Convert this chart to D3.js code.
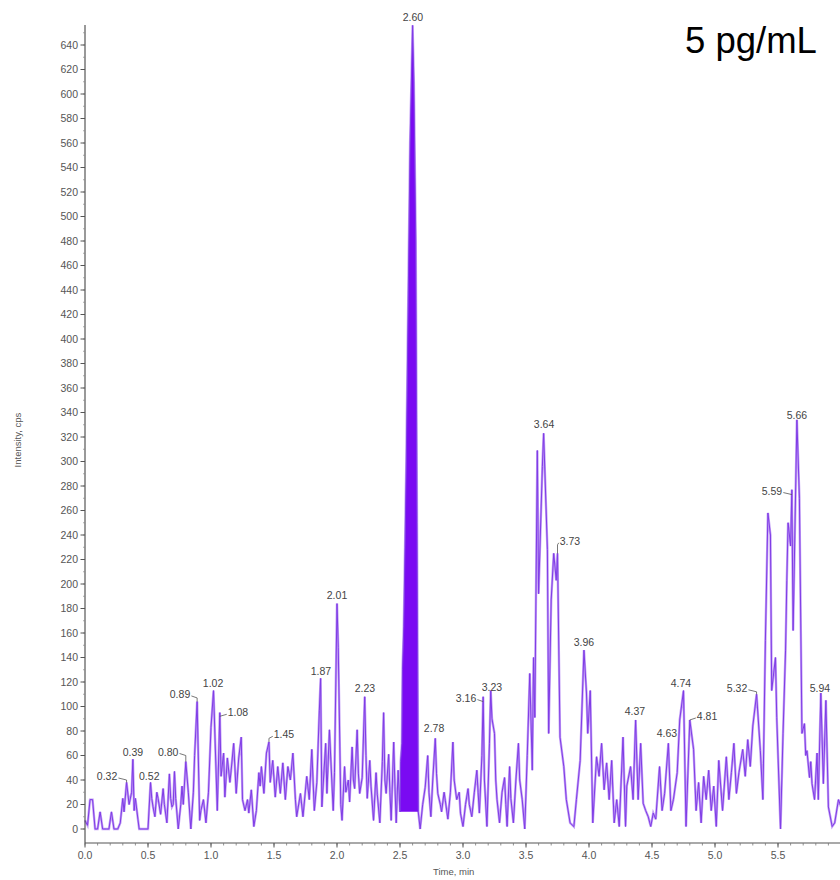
<!DOCTYPE html>
<html><head><meta charset="utf-8">
<script src="https://cdn.jsdelivr.net/npm/d3@7"></script>
<style>body{margin:0;background:#fff}svg{display:block}</style>
</head><body>
<svg id="c" width="840" height="880"></svg>
<script>
// [retention time (min), intensity (cps)]
const chromatogram = [
[0.00,7],[0.02,3],[0.04,24],[0.06,24],[0.08,0],[0.10,0],[0.12,14],[0.14,0],[0.17,0],[0.19,0],
[0.21,14],[0.23,0],[0.26,0],[0.28,5],[0.30,25],[0.31,14],[0.33,38],[0.35,20],[0.37,30],[0.38,57],
[0.39,15],[0.40,25],[0.42,8],[0.43,0],[0.50,0],[0.52,38],[0.53,25],[0.54,18],[0.555,10],[0.57,30],[0.58,25],[0.60,12],
[0.62,33],[0.63,20],[0.65,5],[0.67,45],[0.68,25],[0.69,18],[0.70,20],[0.71,47],[0.72,25],[0.74,0],[0.76,20],[0.77,35],[0.78,20],[0.80,55],
[0.82,30],[0.84,0],[0.86,30],[0.87,60],[0.89,104],[0.91,7],[0.92,15],[0.94,24],[0.96,5],[0.98,30],[1.00,83],[1.02,113],
[1.05,15],[1.07,95],[1.08,43],[1.10,62],[1.11,26],[1.13,58],[1.15,38],[1.16,48],[1.18,70],[1.20,29],
[1.22,58],[1.24,75],[1.25,24],[1.27,15],[1.29,24],[1.30,13],[1.32,32],[1.34,2],[1.36,15],[1.38,46],
[1.39,35],[1.40,51],[1.42,29],[1.44,62],[1.46,71],[1.47,38],[1.49,56],[1.51,26],[1.53,51],[1.55,29],
[1.57,54],[1.59,24],[1.61,51],[1.63,40],[1.65,62],[1.67,24],[1.68,10],[1.71,29],[1.73,10],[1.76,43],
[1.78,24],[1.80,65],[1.82,15],[1.84,38],[1.86,97],[1.87,123],[1.88,18],[1.91,70],[1.92,29],[1.94,81],
[1.97,15],[1.98,46],[2.00,184],[2.01,148],[2.03,20],[2.04,7],[2.06,51],[2.07,30],[2.09,40],[2.10,22],
[2.12,67],[2.13,40],[2.14,33],[2.16,81],[2.17,45],[2.18,29],[2.20,42],[2.22,108],[2.23,60],[2.24,25],
[2.26,56],[2.27,35],[2.29,7],[2.31,46],[2.32,28],[2.34,5],[2.36,55],[2.37,95],[2.38,40],[2.39,29],
[2.41,61],[2.42,30],[2.43,7],[2.45,71],[2.46,35],[2.47,5],[2.485,48],
[2.50,14],[2.505,55],[2.515,70],[2.52,130],[2.53,165],[2.54,230],[2.55,300],[2.565,430],[2.58,560],[2.60,656],
[2.61,610],[2.625,480],[2.635,250],[2.645,14],
[2.66,0],[2.68,20],[2.70,34],[2.72,60],[2.73,30],[2.745,10],[2.76,40],[2.78,74],[2.79,45],[2.80,29],
[2.82,20],[2.83,14],[2.85,30],[2.86,23],[2.88,8],[2.90,30],[2.92,71],[2.93,40],[2.95,24],[2.97,30],
[2.98,13],[3.00,2],[3.02,20],[3.04,33],[3.05,20],[3.07,10],[3.09,30],[3.11,48],[3.12,30],[3.13,13],
[3.15,60],[3.16,108],[3.17,40],[3.19,2],[3.21,70],[3.22,113],[3.23,90],[3.25,78],[3.26,40],[3.27,24],
[3.29,5],[3.31,30],[3.33,42],[3.34,20],[3.35,2],[3.37,51],[3.38,25],[3.40,5],[3.42,40],[3.44,70],
[3.45,40],[3.47,24],[3.49,0],
[3.51,60],[3.53,127],[3.55,48],[3.56,140],[3.57,91],[3.59,309],[3.60,192],
[3.63,296],[3.64,323],[3.67,228],[3.68,78],[3.70,187],[3.72,225],[3.74,203],[3.75,225],[3.77,75],[3.80,51],
[3.82,24],[3.85,5],[3.88,2],[3.90,24],[3.93,56],[3.96,146],[3.98,111],[3.99,78],
[4.01,113],[4.03,5],[4.06,59],[4.08,43],[4.10,70],[4.12,32],[4.14,54],[4.16,24],[4.18,56],[4.20,5],
[4.22,24],[4.24,2],[4.27,75],[4.29,2],[4.30,35],[4.33,51],[4.35,24],[4.37,89],[4.39,24],[4.41,70],
[4.43,21],[4.45,15],[4.47,10],[4.49,2],[4.51,13],[4.53,8],[4.56,51],[4.58,15],[4.60,29],[4.63,70],
[4.65,15],[4.67,24],[4.70,46],[4.72,89],[4.75,113],[4.77,2],[4.80,89],[4.83,65],[4.85,15],[4.87,38],
[4.89,5],[4.91,43],[4.93,24],[4.95,48],[4.97,15],[4.99,35],[5.01,2],[5.03,56],[5.06,15],[5.09,59],
[5.11,24],[5.13,46],[5.15,70],[5.17,29],[5.19,46],[5.22,65],[5.24,43],[5.26,73],[5.28,51],[5.30,84],
[5.33,110],[5.36,64],[5.38,24],
[5.40,154],[5.42,258],[5.44,240],[5.45,113],[5.48,140],[5.49,91],[5.52,0],[5.54,78],[5.56,146],[5.57,203],
[5.58,250],[5.60,231],[5.61,277],[5.62,162],[5.65,334],[5.67,270],[5.69,78],[5.71,86],[5.72,60],[5.73,64],[5.75,42],
[5.76,55],[5.77,37],[5.79,24],[5.81,62],[5.82,24],[5.84,111],[5.86,37],[5.88,105],[5.90,18],[5.93,2],[5.95,5],
[5.98,24],[6.00,18]
];

// integrated peak (retention window and baseline)
const integratedPeak = {start: 2.50, end: 2.645, baseline: 14};

const xTicks = [0,0.5,1,1.5,2,2.5,3,3.5,4,4.5,5,5.5];
const yTicks = [0,20,40,60,80,100,120,140,160,180,200,220,240,260,280,300,320,340,360,380,400,420,440,460,480,500,520,540,560,580,600,620,640];

// peak labels: text, label anchor (t, v) and labelled apex (pt, pv)
const peakLabels = [
{text:"0.32", t:0.175, v:40,  pt:0.33, pv:38, leader:true},
{text:"0.39", t:0.38,  v:60,  pt:0.38, pv:57},
{text:"0.52", t:0.51,  v:40,  pt:0.52, pv:38},
{text:"0.80", t:0.66,  v:60,  pt:0.80, pv:55, leader:true},
{text:"0.89", t:0.754, v:107, pt:0.89, pv:104, leader:true},
{text:"1.02", t:1.016, v:116, pt:1.02, pv:113},
{text:"1.08", t:1.214, v:92,  pt:1.07, pv:95, leader:true},
{text:"1.45", t:1.579, v:74,  pt:1.46, pv:71, leader:true},
{text:"1.87", t:1.873, v:126, pt:1.87, pv:123},
{text:"2.01", t:2.0,   v:188, pt:2.00, pv:184},
{text:"2.23", t:2.222, v:112, pt:2.22, pv:108},
{text:"2.60", t:2.603, v:660, pt:2.60, pv:656},
{text:"2.78", t:2.77,  v:79,  pt:2.78, pv:74},
{text:"3.16", t:3.024, v:104, pt:3.16, pv:108, leader:true},
{text:"3.23", t:3.23,  v:113, pt:3.22, pv:113},
{text:"3.64", t:3.643, v:327, pt:3.64, pv:323},
{text:"3.73", t:3.849, v:232, pt:3.75, pv:225, leader:true},
{text:"3.96", t:3.96,  v:149, pt:3.96, pv:146},
{text:"4.37", t:4.365, v:93,  pt:4.37, pv:89},
{text:"4.63", t:4.619, v:75,  pt:4.63, pv:70},
{text:"4.74", t:4.73,  v:116, pt:4.75, pv:113},
{text:"4.81", t:4.937, v:89,  pt:4.80, pv:89, leader:true},
{text:"5.32", t:5.175, v:112, pt:5.33, pv:110, leader:true},
{text:"5.59", t:5.452, v:273, pt:5.61, pv:277, leader:true},
{text:"5.66", t:5.65,  v:335, pt:5.65, pv:334},
{text:"5.94", t:5.833, v:112, pt:5.84, pv:111}
];

const sampleLabel = "5 pg/mL";
const xTitle = "Time, min";
const yTitle = "Intensity, cps";

const svg = d3.select("#c");
const x = d3.scaleLinear().domain([0, 6]).range([85, 841]);
const y = d3.scaleLinear().domain([0, 640]).range([829, 45]);
const axisBottomY = 843, axisTopY = 25;

const fontFam = "'Liberation Sans', Arial, sans-serif";

const lineGen = d3.line().x(d => x(d[0])).y(d => y(d[1]));

// trace halo (light purple)
svg.append("path")
  .datum(chromatogram)
  .attr("d", lineGen)
  .attr("fill", "none")
  .attr("stroke", "#c4a0f6")
  .attr("stroke-width", 2.4);

// integrated peak fill
const peakPts = chromatogram.filter(d => d[0] >= integratedPeak.start && d[0] <= integratedPeak.end);
svg.append("path")
  .datum(peakPts)
  .attr("d", d3.area().x(d => x(d[0])).y0(y(integratedPeak.baseline)).y1(d => y(d[1])))
  .attr("fill", "#7a0af2");

// trace core
svg.append("path")
  .datum(chromatogram)
  .attr("d", lineGen)
  .attr("fill", "none")
  .attr("stroke", "#7f3ce6")
  .attr("stroke-width", 1.0);

// x axis
const xAxisG = svg.append("g").attr("transform", `translate(0,${axisBottomY})`);
xAxisG.append("line").attr("x1", x(0)).attr("x2", 840).attr("y1", 0).attr("y2", 0)
  .attr("stroke", "#555").attr("stroke-width", 1.2);
const xMinor = d3.range(0, 60).map(i => i / 10);
xAxisG.selectAll(".xm").data(xMinor).enter().append("line")
  .attr("x1", d => x(d)).attr("x2", d => x(d)).attr("y1", 0).attr("y2", 2.5)
  .attr("stroke", "#777").attr("stroke-width", 0.8);
xAxisG.selectAll(".xt").data(xTicks).enter().append("line")
  .attr("x1", d => x(d)).attr("x2", d => x(d)).attr("y1", 0).attr("y2", 4.5)
  .attr("stroke", "#555").attr("stroke-width", 1);
xAxisG.selectAll(".xl").data(xTicks).enter().append("text")
  .attr("x", d => x(d)).attr("y", 16).attr("text-anchor", "middle")
  .attr("font-family", fontFam).attr("font-size", 10.5).attr("fill", "#555")
  .text(d => d3.format(".1f")(d));
svg.append("text").attr("x", 433).attr("y", 875)
  .attr("font-family", fontFam).attr("font-size", 9.5).attr("fill", "#555").text(xTitle);

// y axis
const yAxisG = svg.append("g").attr("transform", `translate(${x(0)},0)`);
yAxisG.append("line").attr("x1", 0).attr("x2", 0).attr("y1", axisTopY).attr("y2", axisBottomY)
  .attr("stroke", "#555").attr("stroke-width", 1.2);
const yMinor = d3.range(0, 66).map(i => i * 10);
yAxisG.selectAll(".ym").data(yMinor).enter().append("line")
  .attr("x1", -2).attr("x2", 0).attr("y1", d => y(d)).attr("y2", d => y(d))
  .attr("stroke", "#888").attr("stroke-width", 0.7);
yAxisG.selectAll(".yt").data(yTicks).enter().append("line")
  .attr("x1", -4.5).attr("x2", 0).attr("y1", d => y(d)).attr("y2", d => y(d))
  .attr("stroke", "#555").attr("stroke-width", 1);
yAxisG.selectAll(".yl").data(yTicks).enter().append("text")
  .attr("x", -7).attr("y", d => y(d) + 3.5).attr("text-anchor", "end")
  .attr("font-family", fontFam).attr("font-size", 10.5).attr("fill", "#555")
  .text(d => d);
svg.append("text")
  .attr("transform", "translate(21,440) rotate(-90)")
  .attr("text-anchor", "middle")
  .attr("font-family", fontFam).attr("font-size", 9.5).attr("fill", "#555").text(yTitle);

// peak labels
const lab = svg.append("g");
peakLabels.forEach(p => {
  const t = lab.append("text")
    .attr("x", x(p.t)).attr("y", y(p.v)).attr("text-anchor", "middle")
    .attr("font-family", fontFam).attr("font-size", 10.5).attr("fill", "#444")
    .text(p.text);
  if (p.leader) {
    const bb = t.node().getBBox();
    const px = x(p.pt), py = y(p.pv);
    const onRight = px > x(p.t);
    const sx = onRight ? bb.x + bb.width + 1 : bb.x - 1;
    const sy = y(p.v) - 2;
    lab.append("path")
      .attr("d", `M${sx},${sy} L${px},${sy + 2} L${px},${Math.max(py, sy + 2)}`)
      .attr("fill", "none").attr("stroke", "#555").attr("stroke-width", 0.8);
  }
});

// sample label
svg.append("text").attr("x", 685).attr("y", 53)
  .attr("font-family", fontFam).attr("font-size", 36.5).attr("fill", "#000")
  .text(sampleLabel);
</script>
</body></html>
